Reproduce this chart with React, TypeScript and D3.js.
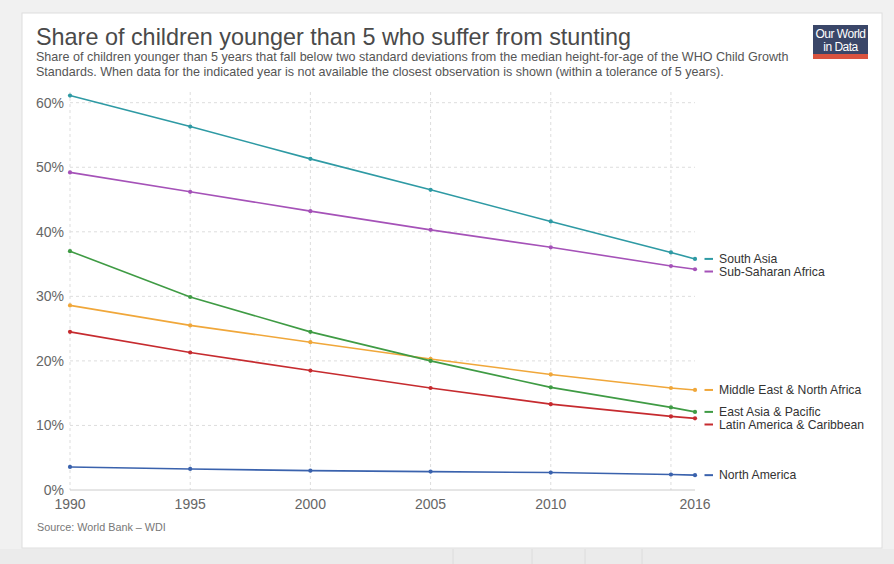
import React from "react";
import * as d3 from "d3";

const years = [1990, 1995, 2000, 2005, 2010, 2015, 2016];
const southAsia = [61.1, 56.3, 51.3, 46.5, 41.6, 36.8, 35.8];
const subSaharanAfrica = [49.2, 46.2, 43.2, 40.3, 37.6, 34.7, 34.2];
const middleEastNorthAfrica = [28.6, 25.5, 22.9, 20.3, 17.9, 15.8, 15.5];
const eastAsiaPacific = [37.0, 29.9, 24.5, 20.0, 15.9, 12.8, 12.1];
const latinAmericaCaribbean = [24.5, 21.3, 18.5, 15.8, 13.3, 11.4, 11.1];
const northAmerica = [3.57, 3.26, 3.0, 2.85, 2.7, 2.4, 2.3];

const seriesNames = [
  "South Asia",
  "Sub-Saharan Africa",
  "Middle East & North Africa",
  "East Asia & Pacific",
  "Latin America & Caribbean",
  "North America",
];
const seriesValues = [
  southAsia,
  subSaharanAfrica,
  middleEastNorthAfrica,
  eastAsiaPacific,
  latinAmericaCaribbean,
  northAmerica,
];
const seriesColors = ["#2e9aa4", "#a552b8", "#f0a73a", "#3f9b44", "#c62b2f", "#3a62ad"];

const yTicks = [0, 10, 20, 30, 40, 50, 60];
const xTicks = [1990, 1995, 2000, 2005, 2010, 2016];
const xGrid = [1990, 1995, 2000, 2005, 2010, 2015];

const FONT = "'Liberation Sans', Arial, Helvetica, sans-serif";

export default function App() {
  const x = d3.scaleLinear().domain([1990, 2016]).range([70, 695]);
  const y = d3.scaleLinear().domain([0, 60]).range([490, 102.7]);
  const line = d3
    .line<[number, number]>()
    .x((d) => x(d[0]))
    .y((d) => y(d[1]));

  // label positions with simple collision avoidance
  const ends = seriesNames.map((name, i) => ({
    name,
    color: seriesColors[i],
    y: y(seriesValues[i][seriesValues[i].length - 1]),
  }));
  const sorted = [...ends].sort((a, b) => a.y - b.y);
  let prev = -Infinity;
  const labelY = new Map<string, number>();
  for (const e of sorted) {
    const ly = Math.max(e.y, prev + 12.6);
    labelY.set(e.name, ly);
    prev = ly;
  }

  return (
    <svg
      width={894}
      height={564}
      style={{ position: "absolute", left: 0, top: 0, fontFamily: FONT }}
    >
      <rect x={0} y={0} width={894} height={564} fill="#f1f1f1" />
      <rect x={0} y={549} width={894} height={15} fill="#ebebeb" />
      {[453, 532, 585, 642].map((v) => (
        <line key={v} x1={v} x2={v} y1={549} y2={564} stroke="#dcdcdc" />
      ))}
      <rect x={22} y={13} width={860} height={535} fill="#ffffff" stroke="#dedede" />

      {/* title */}
      <text x={36} y={45} fontSize={23.4} fill="#4a4a4a">
        Share of children younger than 5 who suffer from stunting
      </text>
      <text x={36} y={61} fontSize={12.55} fill="#555">
        Share of children younger than 5 years that fall below two standard deviations from the median height-for-age of the WHO Child Growth
      </text>
      <text x={36} y={76} fontSize={12.55} fill="#555">
        Standards. When data for the indicated year is not available the closest observation is shown (within a tolerance of 5 years).
      </text>

      {/* logo */}
      <rect x={813} y={25} width={55} height={34} fill="#3a4668" />
      <rect x={813} y={54} width={55} height={5} fill="#d9533f" />
      <text x={840.5} y={38} fontSize={12} fill="#fff" textAnchor="middle" letterSpacing={-0.5}>
        Our World
      </text>
      <text x={840.5} y={51} fontSize={12} fill="#fff" textAnchor="middle" letterSpacing={-0.5}>
        in Data
      </text>

      {/* grid */}
      {yTicks.filter((t) => t > 0).map((t) => (
        <line
          key={"hg" + t}
          x1={x(1990)}
          x2={x(2016)}
          y1={y(t)}
          y2={y(t)}
          stroke="#dddddd"
          strokeDasharray="3,3"
        />
      ))}
      {xGrid.map((t) => (
        <line
          key={"vg" + t}
          x1={x(t)}
          x2={x(t)}
          y1={92}
          y2={y(0)}
          stroke="#dddddd"
          strokeDasharray="3,3"
        />
      ))}
      <line x1={x(1990)} x2={x(2016)} y1={y(0)} y2={y(0)} stroke="#cccccc" />

      {/* y tick labels */}
      {yTicks.map((t) => (
        <text
          key={"yt" + t}
          x={64}
          y={y(t) + 5}
          fontSize={14}
          fill="#666"
          textAnchor="end"
        >
          {t + "%"}
        </text>
      ))}
      {/* x tick labels */}
      {xTicks.map((t) => (
        <text key={"xt" + t} x={x(t)} y={509} fontSize={14} fill="#666" textAnchor="middle">
          {t}
        </text>
      ))}

      {/* lines */}
      {seriesValues.map((vals, i) => {
        const pts: [number, number][] = years.map((yr, j) => [yr, vals[j]]);
        return (
          <g key={seriesNames[i]}>
            <path d={line(pts) || ""} fill="none" stroke={seriesColors[i]} strokeWidth={1.6} />
            {pts.map((p, j) => (
              <circle key={j} cx={x(p[0])} cy={y(p[1])} r={2.1} fill={seriesColors[i]} />
            ))}
          </g>
        );
      })}

      {/* labels */}
      {ends.map((e) => {
        const ly = labelY.get(e.name) as number;
        return (
          <g key={"lab" + e.name}>
            <line x1={704.5} x2={713} y1={ly} y2={ly} stroke={e.color} strokeWidth={2} />
            <text x={719} y={ly + 4.3} fontSize={12.2} fill="#333">
              {e.name}
            </text>
          </g>
        );
      })}

      <text x={37} y={531} fontSize={10.8} fill="#777">
        Source: World Bank – WDI
      </text>
    </svg>
  );
}
